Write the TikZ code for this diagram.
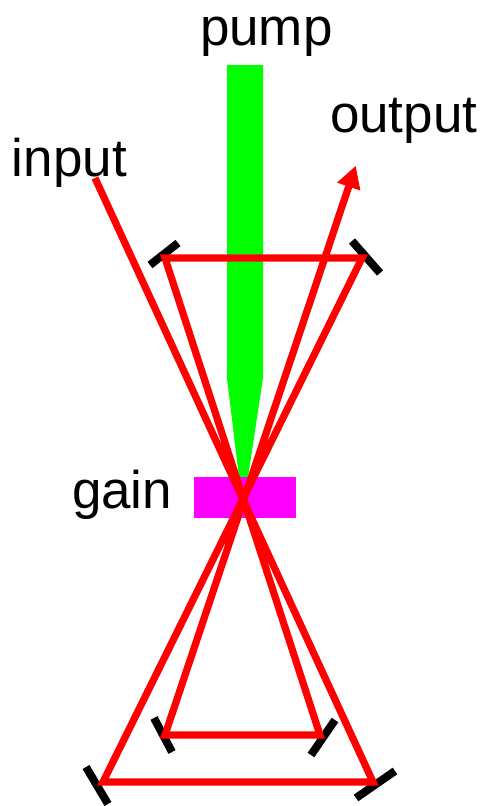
\documentclass[tikz,border=0pt]{standalone}
\usepackage{fontspec}
\setmainfont{Liberation Sans}
\usetikzlibrary{arrows.meta}
\definecolor{puregreen}{rgb}{0,1,0}
\definecolor{puremagenta}{rgb}{1,0,1}
\definecolor{purered}{rgb}{1,0,0}
\tikzset{
  lbl/.style={anchor=base west,inner sep=0pt,outer sep=0pt,font=\fontsize{53}{60}\selectfont,text=black},
  mirror/.style={draw=black,line width=8pt},
  ray/.style={draw=purered,line width=7.2pt,line join=miter},
}
\begin{document}
\begin{tikzpicture}[x=1pt,y=-1pt]
\useasboundingbox (0,0) rectangle (481,806);
% pump beam and gain medium
\fill[puregreen] (227,65) -- (263,65) -- (263,378) -- (248,477) -- (239,477) -- (227,378) -- cycle;
\fill[puremagenta] (194,477) rectangle (296,518);
% mirrors
\draw[mirror] (150,265) -- (178,243);
\draw[mirror] (352,241) -- (380,273);
\draw[mirror] (154,718) -- (172,752);
\draw[mirror] (335,720) -- (311,755);
\draw[mirror] (86,767) -- (108,804);
\draw[mirror] (395,771) -- (356,798);
% ray corners
\coordinate (in) at (95,178);
\coordinate (m1) at (373,782);
\coordinate (m2) at (103,782);
\coordinate (m3) at (362,258);
\coordinate (m4) at (165,258);
\coordinate (m5) at (320,735);
\coordinate (m6) at (165,735);
\coordinate (out) at (355.7,165.7);
\draw[ray,-{Triangle[length=22pt,width=23pt]}] (in) -- (m1) -- (m2) -- (m3) -- (m4) -- (m5) -- (m6) -- (out);
% labels
\node[lbl] (pump) at (200,45) {pump};
\node[lbl] (input) at (12,176) {input};
\node[lbl] (output) at (330,132) {output};
\node[lbl] (gain) at (72,508) {gain};
\end{tikzpicture}
\end{document}
